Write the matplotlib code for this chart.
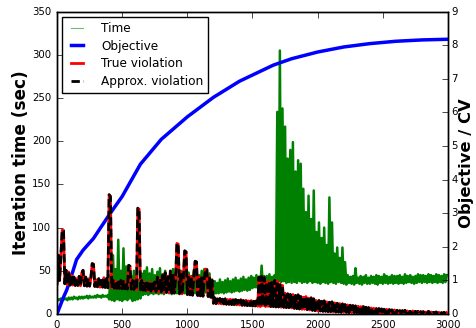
import matplotlib
matplotlib.use("Agg")
import numpy as np
import matplotlib.pyplot as plt
from matplotlib.lines import Line2D

plt.style.use("classic")
plt.rcParams["font.family"] = ["DejaVu Sans"]
plt.rcParams["font.size"] = 7.3

# ── Data ─────────────────────────────────────────────────────
# iterations sampled every 10, values alternate low / high of the noisy band
iters = np.arange(0, 3000, 10)

# iteration time (sec), left axis
time_sec = [
    15, 17, 16, 18, 16, 18, 17, 18, 16, 19, 17, 19, 17, 20, 18, 19, 17, 20, 18, 20,
    18, 20, 19, 21, 18, 21, 19, 20, 19, 21, 19, 22, 20, 21, 19, 22, 20, 21, 20, 22,
    17, 45, 16, 68, 15, 52, 17, 86, 16, 50, 15, 76, 17, 55, 16, 48, 18, 44, 15, 50,
    16, 45, 17, 40, 18, 47, 22, 50, 23, 54, 22, 47, 24, 52, 23, 45, 24, 49, 23, 53,
    24, 46, 23, 50, 25, 44, 24, 48, 23, 52, 25, 47, 24, 43, 23, 50, 25, 46, 24, 55,
    24, 48, 23, 44, 25, 51, 24, 47, 25, 45, 23, 50, 24, 52, 25, 43, 24, 47, 23, 40,
    23, 38, 24, 36, 24, 40, 25, 37, 24, 39, 25, 41, 26, 38, 25, 40, 26, 42, 27, 39,
    26, 41, 27, 43, 28, 40, 27, 42, 28, 44, 30, 42, 31, 45, 30, 43, 32, 56, 31, 44,
    32, 44, 33, 46, 32, 43, 33, 45, 36, 234, 38, 305, 37, 238, 38, 217, 36, 180, 37, 190,
    36, 199, 37, 165, 36, 178, 38, 174, 36, 145, 37, 118, 36, 137, 38, 110, 36, 143, 37, 95,
    36, 106, 35, 88, 37, 100, 36, 80, 35, 135, 37, 106, 36, 70, 35, 77, 37, 65, 36, 77,
    35, 60, 34, 45, 36, 43, 35, 44, 34, 53, 36, 42, 35, 44, 34, 43, 36, 45, 35, 42,
    35, 44, 36, 43, 35, 45, 34, 44, 36, 43, 35, 46, 36, 44, 35, 43, 36, 45, 35, 44,
    36, 44, 35, 45, 36, 43, 35, 46, 36, 44, 37, 45, 36, 43, 35, 44, 36, 46, 37, 45,
    36, 45, 37, 44, 36, 46, 37, 45, 36, 44, 37, 46, 36, 45, 37, 44, 36, 46, 37, 45,
]

# constraint violation, right axis
cv_true = [
    0.88, 1.75, 1.00, 1.72, 2.50, 2.48, 0.90, 1.30, 0.87, 1.25, 0.86, 1.15, 0.86, 1.10, 0.85, 1.05, 0.85, 1.12, 0.84, 1.22,
    1.30, 0.84, 1.10, 0.83, 1.05, 0.83, 1.08, 1.50, 1.48, 0.82, 1.02, 0.81, 1.05, 0.80, 1.00, 0.80, 1.08, 0.79, 1.05, 0.78,
    3.55, 3.50, 0.78, 1.00, 0.77, 0.98, 0.76, 0.95, 0.76, 1.00, 0.75, 0.97, 0.75, 0.95, 0.74, 1.45, 1.42, 0.74, 1.00, 0.73,
    1.02, 0.73, 3.15, 3.12, 0.72, 1.00, 0.71, 0.95, 0.70, 0.92, 0.69, 0.95, 0.68, 0.90, 0.68, 0.95, 0.67, 1.10, 0.66, 1.05,
    0.66, 1.15, 0.65, 1.23, 0.64, 1.10, 0.64, 1.28, 0.63, 1.15, 0.62, 1.05, 2.10, 2.08, 0.61, 1.25, 0.60, 1.12, 1.88, 1.85,
    0.58, 1.15, 0.57, 1.10, 0.56, 1.15, 1.57, 1.55, 0.55, 1.10, 0.54, 1.08, 0.53, 1.05, 1.34, 1.32, 0.52, 1.10, 0.50, 1.00,
    0.32, 0.48, 0.31, 0.45, 0.31, 0.46, 0.30, 0.44, 0.30, 0.45, 0.29, 0.43, 0.29, 0.44, 0.28, 0.42, 0.28, 0.43, 0.27, 0.41,
    0.27, 0.42, 0.26, 0.40, 0.26, 0.41, 0.25, 0.39, 0.25, 0.40, 0.24, 0.38, 0.24, 0.39, 0.23, 1.10, 0.22, 1.12, 0.25, 1.08,
    0.22, 0.95, 0.23, 0.96, 0.22, 0.94, 0.22, 1.00, 0.21, 0.98, 0.21, 0.90, 0.20, 0.85, 0.20, 0.62, 0.19, 0.60, 0.19, 0.58,
    0.18, 0.58, 0.17, 0.55, 0.16, 0.57, 0.15, 0.52, 0.14, 0.50, 0.14, 0.52, 0.13, 0.47, 0.12, 0.48, 0.11, 0.45, 0.10, 0.40,
    0.09, 0.40, 0.09, 0.38, 0.08, 0.39, 0.08, 0.36, 0.07, 0.35, 0.07, 0.36, 0.06, 0.33, 0.06, 0.32, 0.06, 0.31, 0.05, 0.30,
    0.05, 0.28, 0.05, 0.27, 0.04, 0.26, 0.04, 0.25, 0.04, 0.24, 0.04, 0.23, 0.03, 0.22, 0.03, 0.22, 0.03, 0.20, 0.03, 0.19,
    0.03, 0.18, 0.02, 0.17, 0.02, 0.16, 0.02, 0.16, 0.02, 0.15, 0.02, 0.14, 0.02, 0.14, 0.01, 0.13, 0.01, 0.12, 0.01, 0.12,
    0.01, 0.11, 0.01, 0.10, 0.01, 0.10, 0.01, 0.11, 0.01, 0.09, 0.01, 0.08, 0.01, 0.09, 0.01, 0.08, 0.01, 0.08, 0.01, 0.07,
    0.01, 0.07, 0.01, 0.06, 0.01, 0.08, 0.01, 0.06, 0.01, 0.05, 0.01, 0.06, 0.00, 0.05, 0.00, 0.04, 0.00, 0.05, 0.00, 0.04,
]
# approximated violation is indistinguishable from the true one at this scale
cv_approx = cv_true

# objective, right axis
obj_iter = [0, 25, 50, 75, 100, 150, 200, 280, 400, 500, 640, 800, 1000,
            1200, 1400, 1660, 1800, 2000, 2200, 2400, 2600, 2800, 3000]
obj_val = [0.0, 0.25, 0.5, 0.72, 1.0, 1.62, 1.9, 2.25, 2.95, 3.5, 4.46, 5.2, 5.87,
           6.45, 6.93, 7.41, 7.6, 7.8, 7.95, 8.05, 8.12, 8.16, 8.18]

# ── Plot ─────────────────────────────────────────────────────
fig = plt.figure(figsize=(4.77, 3.28), dpi=100)
ax = fig.add_axes([0.1195, 0.0427, 0.8197, 0.9216])
ax2 = ax.twinx()

ax.plot(iters, time_sec, color="g", lw=1.8)
l_obj, = ax2.plot(obj_iter, obj_val, color="b", lw=2.5, label="Objective")
l_true, = ax2.plot(iters, cv_true, color="r", lw=2.0, label="True violation")
l_apx, = ax2.plot(iters, cv_approx, color="k", lw=2.0, ls="--",
                  dashes=(6, 2.5), label="Approx. violation")
# thin handle for the time series, as in the original legend
l_time = Line2D([], [], color="g", lw=0.8, alpha=0.55, label="Time")

ax.set_xlim(0, 3000)
ax.set_ylim(0, 350)
ax2.set_ylim(0, 9)
ax.set_xticks(np.arange(0, 3001, 500))
ax.set_yticks(np.arange(0, 351, 50))
ax2.set_yticks(np.arange(0, 10, 1))
ax2.tick_params(axis="y", pad=2.5)

ax.set_ylabel("Iteration time (sec)", fontsize=12.2, fontweight="bold", labelpad=1.5)
ax2.set_ylabel("Objective / CV", fontsize=11.8, fontweight="bold", labelpad=1.0)

handles = [l_time, l_obj, l_true, l_apx]
ax2.legend(handles, [h.get_label() for h in handles],
           loc="upper left", fontsize=8.7, handlelength=1.6,
           handletextpad=1.2, labelspacing=0.38, borderaxespad=0.45)

fig.savefig("out.png", dpi=100)
